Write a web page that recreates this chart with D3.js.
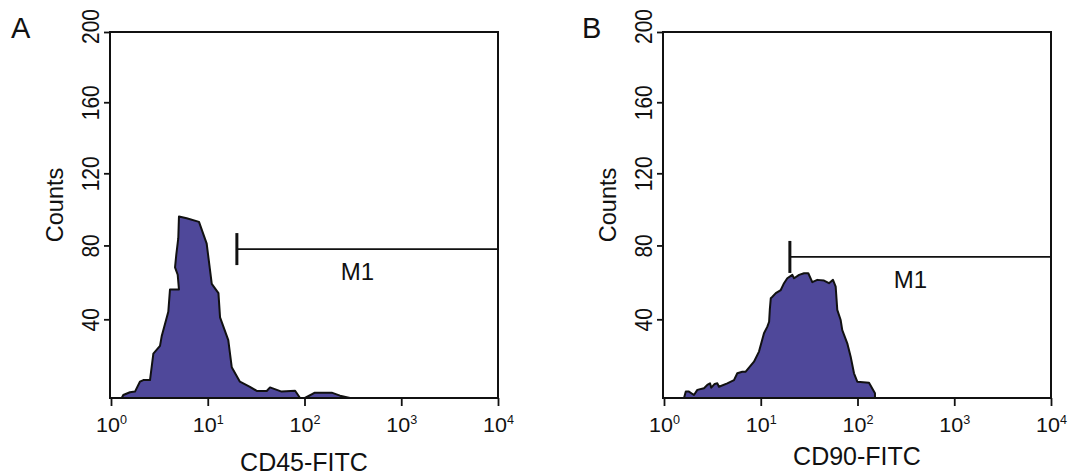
<!DOCTYPE html>
<html>
<head>
  <style>
    body {
      margin: 0;
      background: #fff;
    }
    svg {
      display: block;
      font-family: "Liberation Sans", Arial, sans-serif;
    }
    .box {
      fill: none;
      stroke: #111;
      stroke-width: 2;
    }
    .hist {
      fill: #4f489a;
      stroke: #111;
      stroke-width: 2;
      stroke-linejoin: round;
    }
    .axis .domain {
      display: none;
    }
    .axis .tick line {
      stroke: #111;
      stroke-width: 1.8;
    }
    .gate {
      stroke: #111;
    }
  </style>
</head>
<body>
  <script src="https://d3js.org/d3.v7.min.js"></script>
  <script>
    // fluorescence intensity (x) and counts (y)
    var cd45Intensity = [1.29,1.34,1.57,1.77,1.99,2.16,2.53,2.74,3.21,3.34,3.91,4.07,5.04,4.89,4.59,4.73,4.96,5.04,6.06,8.12,9.75,11.0,12.9,13.4,16.3,17.7,21.5,27.3,32.1,40.7,44,58,80,90,101,128,191,233,295];
    var cd45Counts    = [0,1.3,2.6,2.9,7.7,8.5,8.5,22,26,31,44,56,56,64,68,75,84,96,95,93,81,59,54,41,29,15,7.7,5.2,3.2,3.2,4.9,2.9,3.3,0,0,2.4,2.4,1,0];

    var cd90Intensity = [1.61,1.68,1.81,2.04,2.21,2.59,2.80,2.99,3.08,3.34,3.56,3.70,4.51,5.29,5.72,6.45,6.99,8.51,9.59,10.8,11.7,12.2,12.4,12.7,13.2,14.3,16.1,17.4,18.8,21.2,22.1,24.9,28.0,31.0,34.1,38.4,45.1,50.7,55.8,59.5,61.8,67.0,69.6,78.4,85.0,92.0,99.5,131.5,151.6,151.6];
    var cd90Counts    = [0,2.9,2.9,1.3,3.7,4.5,6.1,6.9,4.8,6.6,6.9,5.2,6.9,8.5,11.9,12.7,12.7,17.8,23,32.6,36.1,38.7,45,51.3,52.1,54,55.7,59.4,62.1,63.9,62.1,63.9,64.8,64.8,60,61.2,60.8,59.4,61.2,57.5,45,39.6,34.3,27.3,20.4,11.9,7.7,7.2,2.1,0];

    var xTickExps = [0, 1, 2, 3, 4];
    var yTicks = [40, 80, 120, 160, 200];
    var panelLetters = ["A", "B"];
    var xTitles = ["CD45-FITC", "CD90-FITC"];
    var gateFrom = [20, 20];
    var gateTo = [10000, 10000];
    var gateLevel = [78, 73.7];
    var gateName = "M1";

    var width = 1074, height = 475;
    var plotTop = 32, plotBottom = 398, plotW = 388;

    var panels = [
      { left: 110, letterX: 11, intensity: cd45Intensity, counts: cd45Counts, titleY: 471 },
      { left: 663, letterX: 582, intensity: cd90Intensity, counts: cd90Counts, titleY: 465 }
    ];

    var svg = d3.select("body").append("svg")
        .attr("width", width)
        .attr("height", height);

    // the y axis of the original is slightly non-linear, a mild power fits its ticks
    var y = d3.scalePow()
      .exponent(0.955)
      .domain([0, 200])
      .range([plotBottom, plotTop]);

    panels.forEach(function(p, i){
      var g = svg.append("g");

      var x = d3.scaleLog()
        .domain([1, 10000])
        .range([p.left + 1, p.left + plotW]);

      var data = p.intensity.map(function(v, j){ return { v: v, c: p.counts[j] }; });

      var area = d3.area()
        .x(function(d){ return x(d.v); })
        .y0(y(0))
        .y1(function(d){ return y(d.c); });

      g.append("path")
        .datum(data)
        .attr("class", "hist")
        .attr("d", area);

      g.append("rect")
        .attr("class", "box")
        .attr("x", p.left)
        .attr("y", plotTop)
        .attr("width", plotW)
        .attr("height", plotBottom - plotTop);

      // x axis: log decades with 10^n labels
      var xAxis = d3.axisBottom(x)
        .tickValues(xTickExps.map(function(e){ return Math.pow(10, e); }))
        .tickSize(8)
        .tickFormat("");

      var gx = g.append("g")
        .attr("class", "x axis")
        .attr("transform", "translate(0," + plotBottom + ")")
        .call(xAxis);

      gx.selectAll(".tick").each(function(d, k){
        var t = d3.select(this).append("text")
          .attr("fill", "#111")
          .attr("text-anchor", "middle")
          .attr("transform", "translate(0,34) scale(1.05,1)")
          .style("font-size", "20.5px");
        t.append("tspan").text("10");
        t.append("tspan")
          .attr("dy", -8)
          .style("font-size", "12px")
          .text(xTickExps[k]);
      });

      // y axis: rotated count labels (the top one sits a little above its tick)
      var yAxis = d3.axisLeft(y)
        .tickValues(yTicks)
        .tickSize(6);

      var gy = g.append("g")
        .attr("class", "y axis")
        .attr("transform", "translate(" + p.left + ",0)")
        .call(yAxis);

      gy.selectAll(".tick text")
        .attr("x", null)
        .attr("dy", null)
        .attr("fill", "#111")
        .attr("text-anchor", "middle")
        .attr("transform", function(d){
          return "translate(-11," + (d == 200 ? -6 : 0) + ") scale(1.1,1) rotate(-90)";
        })
        .style("font-size", "21px");

      g.append("text")
        .attr("fill", "#111")
        .attr("text-anchor", "middle")
        .attr("transform", "translate(" + (p.left - 47) + ",205) rotate(-90)")
        .style("font-size", "23.5px")
        .text("Counts");

      g.append("text")
        .attr("fill", "#111")
        .attr("text-anchor", "middle")
        .attr("x", p.left + plotW / 2)
        .attr("y", p.titleY)
        .style("font-size", "25px")
        .text(xTitles[i]);

      // M1 gate marker
      var gy0 = y(gateLevel[i]);
      g.append("line")
        .attr("class", "gate")
        .attr("x1", x(gateFrom[i]))
        .attr("x2", x(gateTo[i]))
        .attr("y1", gy0)
        .attr("y2", gy0)
        .attr("stroke-width", 1.8);

      g.append("line")
        .attr("class", "gate")
        .attr("x1", x(gateFrom[i]))
        .attr("x2", x(gateFrom[i]))
        .attr("y1", gy0 - 16)
        .attr("y2", gy0 + 16)
        .attr("stroke-width", 3);

      g.append("text")
        .attr("fill", "#111")
        .attr("text-anchor", "middle")
        .attr("x", x(Math.sqrt(gateFrom[i] * gateTo[i])) - 10)
        .attr("y", gy0 + 31)
        .style("font-size", "24px")
        .text(gateName);

      g.append("text")
        .attr("fill", "#111")
        .attr("x", p.letterX)
        .attr("y", 38)
        .style("font-size", "29px")
        .text(panelLetters[i]);
    });
  </script>
</body>
</html>
